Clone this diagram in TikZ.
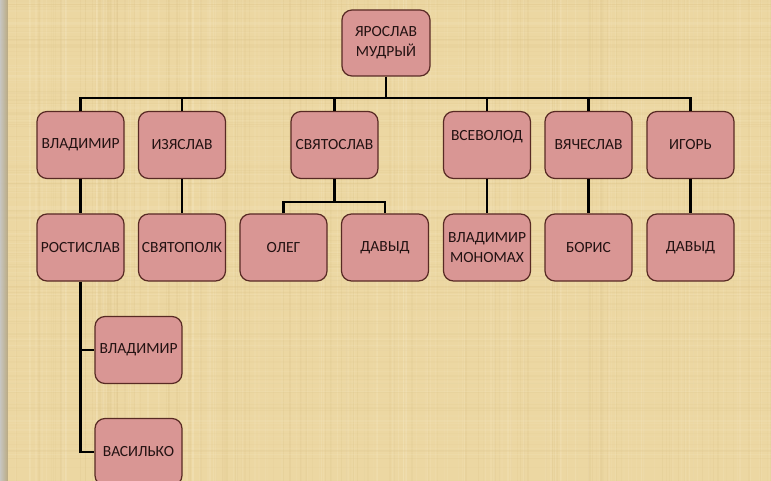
\documentclass[tikz,border=0pt]{standalone}
\usepackage{fontspec}
\setmainfont{Carlito}
\definecolor{parch}{RGB}{236,215,162}
\definecolor{parchlight}{RGB}{246,232,195}
\definecolor{parchdark}{RGB}{220,196,138}
\definecolor{boxfill}{RGB}{217,150,148}
\definecolor{boxline}{RGB}{88,42,36}
\definecolor{txt}{RGB}{35,18,18}
\tikzset{
  person/.style={draw=boxline, line width=1.2pt, fill=boxfill, rounded corners=10pt,
    minimum width=87pt, minimum height=67pt, inner sep=1pt, align=center,
    text=txt, font=\fontsize{15.5}{20}\selectfont},
  link/.style={line width=2.8pt, draw=black}
}
\begin{document}
\begin{tikzpicture}[x=1pt,y=-1pt]
\useasboundingbox (0,0) rectangle (771,481);
\clip (0,0) rectangle (771,481);
% parchment background
\fill[parch] (0,0) rectangle (771,481);
\pgfmathsetseed{7}
\foreach \i in {1,...,260}{
  \pgfmathsetmacro{\xx}{rnd*771}
  \pgfmathsetmacro{\ww}{0.4+rnd*1.4}
  \pgfmathsetmacro{\op}{0.08+rnd*0.2}
  \ifodd\i
    \fill[parchlight, opacity=\op] (\xx,0) rectangle ++(\ww,481);
  \else
    \fill[parchdark, opacity=\op] (\xx,0) rectangle ++(\ww,481);
  \fi
}
\foreach \i in {1,...,200}{
  \pgfmathsetmacro{\yy}{rnd*481}
  \pgfmathsetmacro{\hh}{0.4+rnd*1.2}
  \pgfmathsetmacro{\op}{0.06+rnd*0.16}
  \ifodd\i
    \fill[parchlight, opacity=\op] (0,\yy) rectangle ++(771,\hh);
  \else
    \fill[parchdark, opacity=\op] (0,\yy) rectangle ++(771,\hh);
  \fi
}
\fill[left color=white, right color=parch, opacity=0.7] (0,0) rectangle (8,481);

% nodes
\node[person, minimum width=88pt, minimum height=66pt] (yar) at (386,43) {ЯРОСЛАВ\\МУДРЫЙ};

\node[person] (vlad)  at (80.5,145) {ВЛАДИМИР};
\node[person] (izya)  at (182,145)  {ИЗЯСЛАВ};
\node[person] (svya)  at (334.5,145) {СВЯТОСЛАВ};
\node[person] (vsev)  at (487,145)  {ВСЕВОЛОД\\\phantom{X}};
\node[person] (vyach) at (588.5,145) {ВЯЧЕСЛАВ};
\node[person] (igor)  at (690.5,145) {ИГОРЬ};

\node[person] (rost)  at (80.5,247.5) {РОСТИСЛАВ};
\node[person] (svpk)  at (182,247.5)  {СВЯТОПОЛК};
\node[person] (oleg)  at (283.5,247.5) {ОЛЕГ};
\node[person] (dav1)  at (385,247.5)  {ДАВЫД};
\node[person] (mono)  at (487,247.5)  {ВЛАДИМИР\\МОНОМАХ};
\node[person] (boris) at (588.5,247.5) {БОРИС};
\node[person] (dav2)  at (690.5,247.5) {ДАВЫД};

\node[person] (vlad2) at (138.5,350) {ВЛАДИМИР};
\node[person] (vasil) at (138.5,452) {ВАСИЛЬКО};

% connectors
\coordinate (bus) at (0,98);
\coordinate (sbus) at (0,202);
\draw[link] (yar.south) -- (yar.south |- bus);
\draw[link] (vlad.north) -- (vlad.north |- bus) -- (igor.north |- bus) -- (igor.north);
\foreach \n in {izya,svya,vsev,vyach}{
  \draw[link] (\n.north) -- (\n.north |- bus);
}
\draw[link] (vlad.south) -- (rost.north);
\draw[link] (izya.south) -- (svpk.north);
\draw[link] (svya.south) -- (svya.south |- sbus);
\draw[link] (oleg.north) -- (oleg.north |- sbus) -- (dav1.north |- sbus) -- (dav1.north);
\draw[link] (vsev.south) -- (mono.north);
\draw[link] (vyach.south) -- (boris.north);
\draw[link] (igor.south) -- (dav2.north);
\draw[link] (rost.south) |- (vasil.west);
\draw[link] (rost.south |- vlad2.west) -- (vlad2.west);
\end{tikzpicture}
\end{document}
